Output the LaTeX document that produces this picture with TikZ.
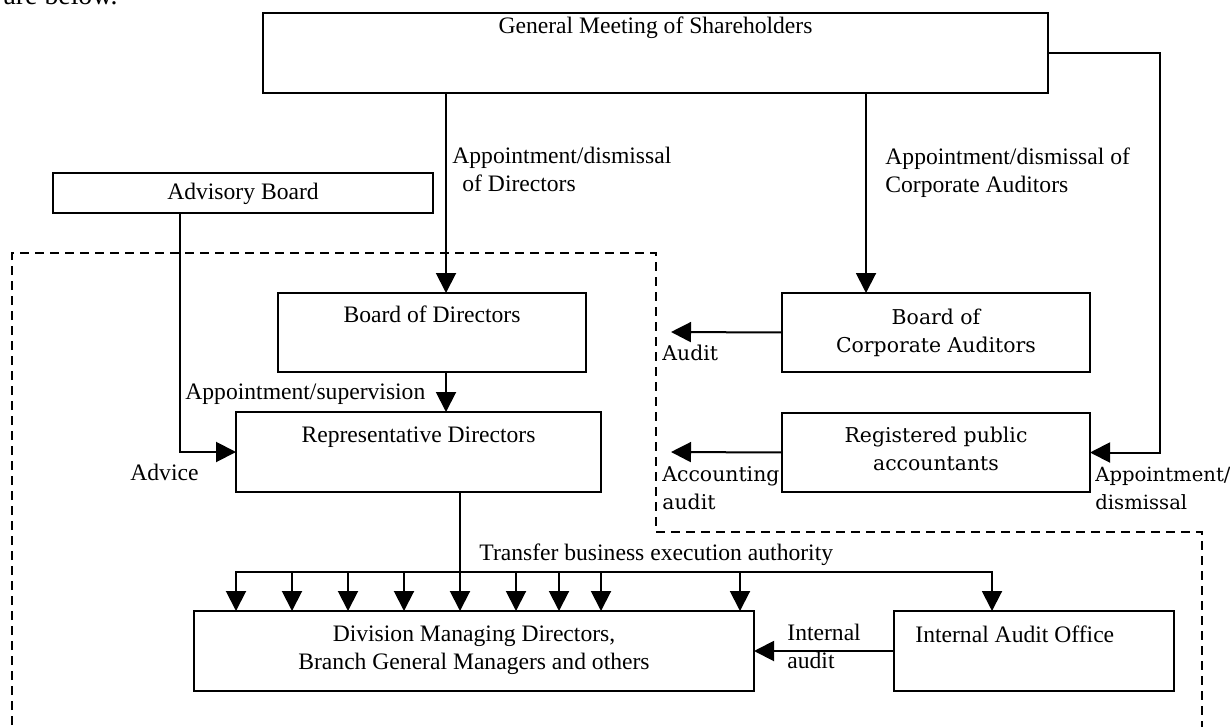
\documentclass[tikz,border=0pt]{standalone}
\usepackage{fontspec}
\setmainfont{Liberation Serif}
\newfontfamily\schoolfont{DejaVu Serif}
\usetikzlibrary{arrows.meta,calc,fit}

\begin{document}
\begin{tikzpicture}[x=0.5pt,y=-0.5pt,
    box/.style={draw,line width=1pt,inner sep=0pt,outer sep=0pt},
    arr/.style={line width=1pt,-{Triangle[length=10pt,width=10pt]}},
    wire/.style={line width=1pt,line cap=rect},
    txt/.style={inner sep=0pt,font=\fontsize{11.8}{14}\selectfont},
    ctxt/.style={inner sep=0pt,font=\fontsize{10.2}{14}\schoolfont},
    frame/.style={line width=0.8pt,dash pattern=on 4.5pt off 3pt}]

\useasboundingbox (0,0) rectangle (1230,727);
\clip (0,0) rectangle (1230,727);

\node[inner sep=0pt,font=\fontsize{13.9}{16}\selectfont,anchor=base east] (intro) at (118,5) {are below.};

\node[box,fit={(263,13) (1048,93)}] (gm) {};
\node[box,fit={(53,173) (433,213)}] (adv) {};
\node[box,fit={(278,293) (586,372)}] (bod) {};
\node[box,fit={(236,412) (601,492)}] (rd) {};
\node[box,fit={(782,293) (1090,372)}] (bca) {};
\node[box,fit={(782,413) (1090,492)}] (rpa) {};
\node[box,fit={(194,611) (754,691)}] (dmd) {};
\node[box,fit={(894,611) (1174,691)}] (iao) {};

\node[txt,anchor=base] (gmtxt) at (gm.north |- 0,34) {General Meeting of Shareholders};
\node[txt,anchor=base] (advtxt) at (adv.north |- 0,200) {Advisory Board};
\node[txt,anchor=base] (bodtxt) at (bod.north |- 0,322) {Board of Directors};
\node[txt,anchor=base] (rdtxt) at (rd.north |- 0,442) {Representative Directors};
\node[ctxt,anchor=north,align=center] (bcatxt) at (bca.north |- 0,309) {Board of\\Corporate Auditors};
\node[ctxt,anchor=north,align=center] (rpatxt) at (rpa.north |- 0,427) {Registered public\\accountants};
\node[txt,anchor=north,align=center] (dmdtxt) at (dmd.north |- 0,625) {Division Managing Directors,\\Branch General Managers and others};
\node[txt,anchor=base west] (iaotxt) at (915,642) {Internal Audit Office};

\node[txt,anchor=north west,align=left] (dirlbl) at (452,147) {Appointment/dismissal\\\hspace*{5pt}of Directors};
\node[txt,anchor=north west,align=left] (audlbl) at (885,147) {Appointment/dismissal of\\Corporate Auditors};
\node[txt,anchor=base west] (suplbl) at (185,399) {Appointment/supervision};
\node[txt,anchor=base west] (advlbl) at (130,480) {Advice};
\node[ctxt,anchor=base west] (auditlbl) at (662,360) {Audit};
\node[ctxt,anchor=north west,align=left] (acclbl) at (662,466) {Accounting\\audit};
\node[ctxt,anchor=north west,align=left,font=\fontsize{9.8}{14}\schoolfont] (apdlbl) at (1095,467) {Appointment/\\dismissal};
\node[txt,anchor=base west] (trflbl) at (479,560) {Transfer business execution authority};
\node[txt,anchor=north west,align=left] (intlbl) at (787,624) {Internal\\audit};

\coordinate (dirin) at (446,293);
\coordinate (audin) at (866,293);
\coordinate (advout) at (180,213);
\coordinate (rpaturn) at (1160,53);
\coordinate (audend) at (671,332);
\coordinate (accend) at (671,452);
\coordinate (bus) at (460,572);

\draw[frame] (12,740) -- (12,253) -- (656,253) -- (656,532) -- (1202,532) -- (1202,740);

\draw[arr] (gm.south -| dirin) -- (dirin);
\draw[arr] (gm.south -| audin) -- (audin);
\draw[arr] (gm.east) -- (rpaturn) |- (rpa.east);
\draw[arr] (advout) |- (rd.west);
\draw[arr] (bod.south -| dirin) -- (rd.north -| dirin);
\draw[arr] (bca.west) -- (audend);
\draw[arr] (rpa.west) -- (accend);

\draw[wire] (rd.south -| bus) -- (bus);
\draw[wire] (bus -| 236,0) -- (bus -| 992,0);
\foreach \tipx in {236,292,348,404,460,516,559,601,740}
    \draw[arr] (bus -| \tipx,0) -- (dmd.north -| \tipx,0);
\draw[arr] (bus -| 992,0) -- (iao.north -| 992,0);
\draw[arr] (iao.west) -- (dmd.east);

\end{tikzpicture}
\end{document}
